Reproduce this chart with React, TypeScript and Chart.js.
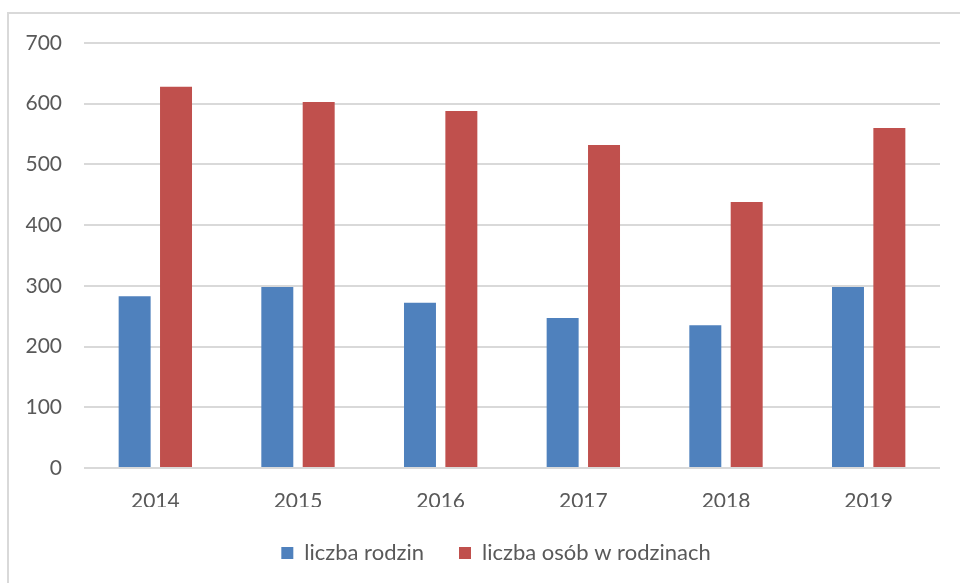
import React, { useEffect, useRef } from "react";
import { Chart, registerables } from "chart.js";

Chart.register(...registerables);

const categories = ["2014", "2015", "2016", "2017", "2018", "2019"];
const families = [283, 298, 272, 247, 235, 298];
const persons = [628, 603, 588, 532, 438, 560];
const seriesNames = ["liczba rodzin", "liczba osób w rodzinach"];
const yTicks = [0, 100, 200, 300, 400, 500, 600, 700];

const FONT = "Lato, 'Open Sans', sans-serif";
const TEXT = "#595959";

const legendShift = {
  id: "legendShift",
  afterLayout(chart: any) {
    if (chart.legend) {
      chart.legend.left += 26;
      chart.legend.right += 26;
    }
  },
};

export default function App() {
  const ref = useRef<HTMLCanvasElement | null>(null);

  useEffect(() => {
    if (!ref.current) return;
    const chart = new Chart(ref.current, {
      type: "bar",
      data: {
        labels: categories,
        datasets: [
          {
            label: seriesNames[0],
            data: families,
            backgroundColor: "#4F81BD",
            borderWidth: 0,
            categoryPercentage: 0.58,
            barPercentage: 0.773,
          },
          {
            label: seriesNames[1],
            data: persons,
            backgroundColor: "#C0504D",
            borderWidth: 0,
            categoryPercentage: 0.58,
            barPercentage: 0.773,
          },
        ],
      },
      plugins: [legendShift],
      options: {
        responsive: false,
        animation: false,
        layout: { padding: { left: 0, right: 20, top: 43, bottom: 9 } },
        plugins: {
          tooltip: { enabled: false },
          legend: {
            position: "bottom",
            maxHeight: 77,
            labels: {
              boxWidth: 12,
              boxHeight: 12,
              padding: 35,
              color: TEXT,
              font: { family: FONT, size: 22 },
            },
          },
        },
        scales: {
          x: {
            grid: { display: false, drawTicks: false },
            border: { display: false },
            ticks: {
              color: TEXT,
              padding: 21,
              font: { family: FONT, size: 21 },
            },
            afterFit: (scale: any) => {
              scale.height = 39;
            },
          },
          y: {
            min: 0,
            max: 700,
            afterBuildTicks: (scale: any) => {
              scale.ticks = yTicks.map((v) => ({ value: v }));
            },
            grid: { color: "#d9d9d9", lineWidth: 2, drawTicks: false },
            border: { display: false },
            ticks: {
              color: TEXT,
              padding: 22,
              font: { family: FONT, size: 21 },
            },
            afterFit: (scale: any) => {
              scale.width = 84;
            },
          },
        },
      },
    });
    return () => chart.destroy();
  }, []);

  return (
    <div style={{ position: "absolute", left: 0, top: 0, width: 960, height: 583, background: "#fff" }}>
      <div
        style={{
          position: "absolute",
          left: 7,
          top: 12,
          width: 953,
          height: 571,
          boxSizing: "border-box",
          borderTop: "2px solid #d9d9d9",
          borderLeft: "2px solid #d9d9d9",
        }}
      />
      <canvas
        ref={ref}
        width={960}
        height={583}
        style={{ position: "absolute", left: 0, top: 0, width: 960, height: 583 }}
      />
    </div>
  );
}
